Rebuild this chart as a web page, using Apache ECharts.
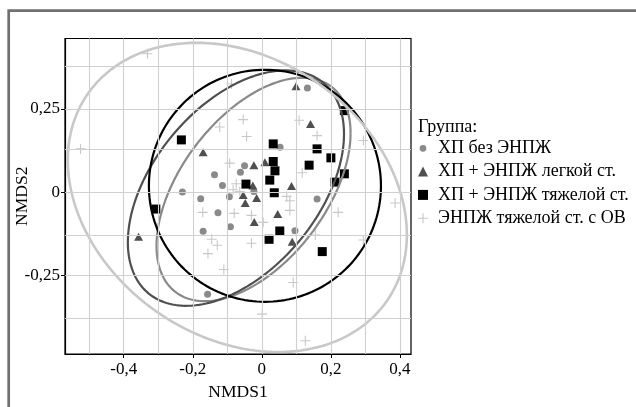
<!DOCTYPE html>
<html>
<head>
<meta charset="utf-8">
<script src="https://cdn.jsdelivr.net/npm/echarts@6/dist/echarts.min.js"></script>
<style>
html,body{margin:0;padding:0;background:#fff;}
#chart{width:636px;height:407px;}
</style>
</head>
<body>
<div id="chart"></div>
<script>
// ---- Data ----
const groupNames = ['ХП без ЭНПЖ', 'ХП + ЭНПЖ легкой ст.', 'ХП + ЭНПЖ тяжелой ст.', 'ЭНПЖ тяжелой ст. с ОВ'];

const circX = [0.132, 0.053, -0.050, -0.062, -0.137, -0.114, -0.230, -0.177, -0.094, -0.127, -0.170, -0.091, -0.157, -0.023, 0.160, 0.096];
const circY = [0.313, 0.135, 0.079, 0.060, 0.052, 0.020, 0.000, -0.020, -0.014, -0.062, -0.118, -0.104, -0.307, 0.002, -0.021, -0.116];

const triX = [0.099, 0.141, -0.023, 0.009, -0.170, -0.026, 0.086, -0.054, -0.015, -0.048, 0.046, -0.022, 0.088, -0.357];
const triY = [0.318, 0.205, 0.081, 0.090, 0.120, 0.020, 0.018, -0.009, -0.018, -0.033, -0.066, -0.090, -0.149, -0.134];

const sqX = [-0.233, -0.307, 0.239, 0.033, 0.160, 0.200, 0.137, 0.033, 0.038, 0.023, 0.239, 0.212, -0.046, 0.036, 0.052, 0.021, 0.175];
const sqY = [0.157, -0.051, 0.245, 0.145, 0.130, 0.103, 0.081, 0.092, 0.064, 0.036, 0.055, 0.030, 0.024, -0.002, -0.117, -0.142, -0.179];

const plusX = [-0.331, -0.525, -0.088, -0.122, -0.054, -0.044, 0.108, 0.160, 0.294, -0.093, 0.117, -0.074, -0.083, -0.064, -0.171, -0.080, -0.145, -0.129, -0.156, -0.110, 0.072, 0.081, 0.081, -0.030, 0.004, -0.030, 0.155, 0.221, 0.294, 0.386, 0.091, 0.001, 0.126];
const plusY = [0.416, 0.130, 0.325, 0.196, 0.218, 0.167, 0.216, 0.170, 0.155, 0.087, 0.058, 0.025, 0.007, 0.002, -0.061, -0.064, -0.142, -0.160, -0.185, -0.233, -0.013, -0.026, -0.055, -0.070, -0.091, -0.154, -0.129, -0.061, -0.144, -0.033, -0.272, -0.367, -0.447];

// confidence ellipses per group: centre, half-extents, correlation
const ellCx  = [-0.024, -0.075, 0.009, -0.071];
const ellCy  = [0.008, 0.012, 0.019, -0.016];
const ellSx  = [0.281, 0.313, 0.336, 0.491];
const ellSy  = [0.336, 0.354, 0.349, 0.465];
const ellRho = [0.504, 0.46, 0.000, -0.241];

// axes
const xTicks = [-0.4, -0.2, 0, 0.2, 0.4];
const yTicks = [-0.25, 0, 0.25];
const xGrid = [-0.5, -0.4, -0.3, -0.2, -0.1, 0, 0.1, 0.2, 0.3, 0.4];
const yGrid = [-0.375, -0.25, -0.125, 0, 0.125, 0.25, 0.375];
const xRange = [-0.570, 0.432];
const yRange = [-0.487, 0.462];

// ---- Styling ----
const colors = ['#8a8a8a', '#4f4f4f', '#000000', '#c8c8c8'];
const ellWidths = [2.2, 2.2, 2.2, 2.6];
const FONT = 'Liberation Serif';
const plusPath = 'path://M4.45,0H5.55V4.45H10V5.55H5.55V10H4.45V5.55H0V4.45H4.45Z';
const legendCircle = 'path://M0,0M10,10M5,1.6A3.4,3.4,0,1,1,4.99,1.6Z';

function zip(xs, ys) { return xs.map((x, i) => [x, ys[i]]); }
function ellipse(i) {
  const pts = [];
  const n = 180;
  const r = Math.sqrt(1 - ellRho[i] * ellRho[i]);
  for (let k = 0; k <= n; k++) {
    const t = 2 * Math.PI * k / n;
    pts.push([ellCx[i] + ellSx[i] * Math.cos(t),
              ellCy[i] + ellSy[i] * (ellRho[i] * Math.cos(t) + r * Math.sin(t))]);
  }
  return pts;
}
function fmt(v) { return v === 0 ? '0' : String(v).replace('.', ','); }

const chart = echarts.init(document.getElementById('chart'), null, {renderer: 'canvas'});

const series = [];
// grid lines
series.push({
  type: 'scatter', name: 'gridlines', data: [], silent: true, z: 1,
  markLine: {
    silent: true, symbol: ['none', 'none'], animation: false,
    label: {show: false},
    lineStyle: {color: '#d0d0d0', width: 1.1, type: 'solid'},
    emphasis: {disabled: true},
    data: xGrid.map(v => ({xAxis: v})).concat(yGrid.map(v => ({yAxis: v})))
  }
});
const sets = [zip(circX, circY), zip(triX, triY), zip(sqX, sqY), zip(plusX, plusY)];
const symbols = ['circle', 'triangle', 'rect', plusPath];
const legendIcons = [legendCircle, 'triangle', 'rect', plusPath];
const sizes = [7, [9, 8], 9, 10];
for (let i = 0; i < 4; i++) {
  series.push({
    type: 'scatter', name: groupNames[i], data: sets[i],
    symbol: symbols[i], symbolSize: sizes[i], z: 3,
    itemStyle: {color: colors[i], opacity: 1},
    emphasis: {disabled: true}, animation: false
  });
}
for (let i = 0; i < 4; i++) {
  series.push({
    type: 'line', name: 'ell' + i, data: ellipse(i), showSymbol: false, symbol: 'none',
    lineStyle: {color: colors[i], width: ellWidths[i]}, z: 4, silent: true,
    animation: false
  });
}

chart.setOption({
  backgroundColor: '#ffffff',
  animation: false,
  grid: {left: 65, top: 38.5, right: 225, bottom: 53, show: true, borderColor: '#000', borderWidth: 1.2, backgroundColor: 'transparent', containLabel: false, outerBoundsMode: 'none'},
  xAxis: {
    type: 'value', min: xRange[0], max: xRange[1],
    name: 'NMDS1', nameLocation: 'middle', nameGap: 29, nameMoveOverlap: false,
    nameTextStyle: {fontFamily: FONT, fontSize: 17.5, color: '#000'},
    axisLine: {show: true, onZero: false, lineStyle: {color: '#000', width: 1.2}},
    axisTick: {show: true, length: 4, customValues: xTicks, lineStyle: {color: '#000'}},
    axisLabel: {show: true, customValues: xTicks, formatter: fmt, margin: 7, fontFamily: FONT, fontSize: 17, color: '#000'},
    splitLine: {show: false}
  },
  yAxis: {
    type: 'value', min: yRange[0], max: yRange[1],
    name: 'NMDS2', nameLocation: 'middle', nameGap: 34, nameMoveOverlap: false,
    nameTextStyle: {fontFamily: FONT, fontSize: 17.5, color: '#000'},
    axisLine: {show: true, onZero: false, lineStyle: {color: '#000', width: 1.2}},
    axisTick: {show: true, length: 4, customValues: yTicks, lineStyle: {color: '#000'}},
    axisLabel: {show: true, customValues: yTicks, formatter: fmt, margin: 5, fontFamily: FONT, fontSize: 17, color: '#000'},
    splitLine: {show: false}
  },
  title: {
    text: 'Группа:', left: 418, top: 117, padding: 0,
    textStyle: {fontFamily: FONT, fontSize: 18, fontWeight: 'normal', color: '#000', lineHeight: 20}
  },
  legend: {
    orient: 'vertical', left: 418, top: 138.3, padding: 0,
    itemWidth: 10, itemHeight: 10, itemGap: 3.3,
    selectedMode: false,
    data: groupNames.map((n, i) => ({name: n, icon: legendIcons[i]})),
    textStyle: {fontFamily: FONT, fontSize: 18, color: '#000', lineHeight: 20, padding: [0, 0, 0, 5]}
  },
  graphic: [{
    type: 'polyline', silent: true,
    shape: {points: [[8.7, 407], [8.7, 10.7], [636, 10.7]]},
    style: {stroke: '#707070', lineWidth: 2.7, fill: 'none'}
  }],
  series: series
});
</script>
</body>
</html>
